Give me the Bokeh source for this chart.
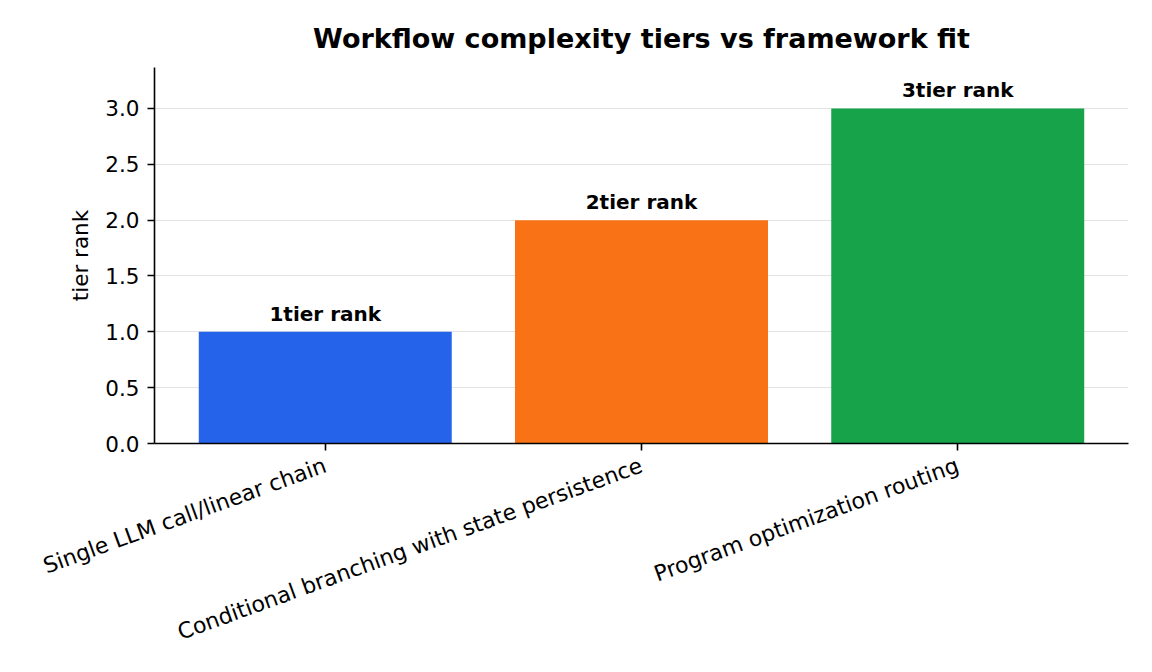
from bokeh.plotting import figure
from bokeh.models import (ColumnDataSource, FactorRange, Range1d, LabelSet,
                          SingleIntervalTicker, NumeralTickFormatter)
from bokeh.core.properties import value
from bokeh.embed import file_html
from bokeh.resources import INLINE
import math

# ---- data ----
categories = ["Single LLM call/linear chain",
              "Conditional branching with state persistence",
              "Program optimization routing"]
tier_rank = [1, 2, 3]
bar_colors = ["#2563eb", "#f97316", "#16a34a"]
bar_labels = [f"{v}tier rank" for v in tier_rank]

FONT = "DejaVu Sans"

src = ColumnDataSource(dict(cat=categories, val=tier_rank, color=bar_colors,
                            lab=bar_labels))

p = figure(width=1152, height=672, output_backend="svg", toolbar_location=None,
           x_range=FactorRange(*categories, range_padding=0.04,
                               range_padding_units="absolute"),
           y_range=Range1d(0, 3.367),
           title="Workflow complexity tiers vs framework fit",
           min_border_left=154, min_border_right=24,
           min_border_top=67, min_border_bottom=229)

p.vbar(x="cat", top="val", width=0.8, color="color", line_color=None, source=src)

labels = LabelSet(x="cat", y="val", text="lab", source=src, y_offset=11,
                  text_align="center", text_baseline="alphabetic",
                  text_font=value(FONT), text_font_size=value("20px"),
                  text_font_style="bold", text_color="black")
p.add_layout(labels)

# title
p.title.text_font = FONT
p.title.text_font_size = "27px"
p.title.text_font_style = "bold"
p.title.align = "center"
p.title.text_color = "black"
p.title.standoff = 28

p.outline_line_color = None
p.background_fill_color = "white"
p.border_fill_color = "white"

# grid
p.xgrid.grid_line_color = None
p.ygrid.grid_line_color = "#e3e3e3"
p.ygrid.grid_line_width = 1

# y axis
p.yaxis.ticker = SingleIntervalTicker(interval=0.5)
p.yaxis.formatter = NumeralTickFormatter(format="0.0")
p.yaxis.axis_label = "tier rank"
p.yaxis.axis_label_text_font = FONT
p.yaxis.axis_label_text_font_size = "21.5px"
p.yaxis.axis_label_text_font_style = "normal"
p.yaxis.axis_label_text_color = "black"
p.yaxis.axis_label_standoff = 9

for ax in (p.xaxis, p.yaxis):
    ax.axis_line_width = 1.6
    ax.axis_line_color = "black"
    ax.major_tick_line_width = 1.6
    ax.major_tick_line_color = "black"
    ax.major_tick_out = 7
    ax.major_tick_in = 0
    ax.minor_tick_line_color = None
    ax.major_label_text_font = FONT
    ax.major_label_text_color = "black"

p.yaxis.major_label_text_font_size = "21.5px"
p.yaxis.major_label_standoff = 8
p.xaxis.major_label_text_font_size = "22px"
p.xaxis.major_label_standoff = 14
p.xaxis.major_label_orientation = math.radians(20)

open("out.html", "w").write(file_html(p, INLINE))
